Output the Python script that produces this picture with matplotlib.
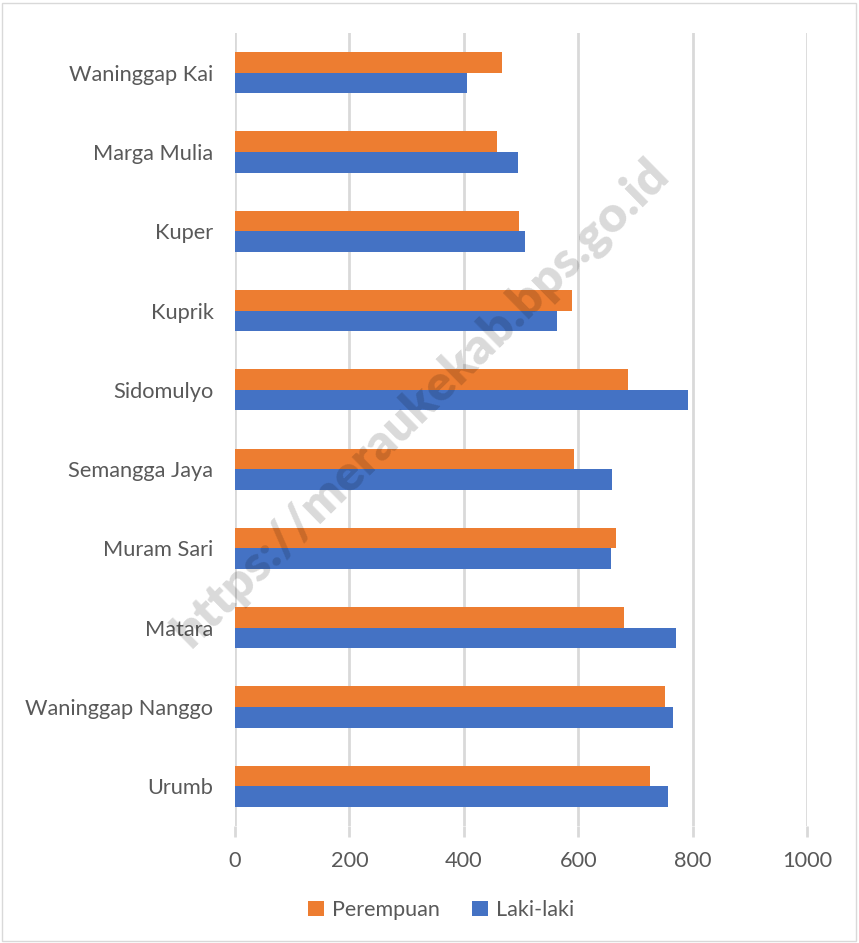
import matplotlib
matplotlib.use("Agg")
import matplotlib.pyplot as plt
import numpy as np
from matplotlib.patches import Rectangle

categories = ["Urumb", "Waninggap Nanggo", "Matara", "Muram Sari", "Semangga Jaya",
              "Sidomulyo", "Kuprik", "Kuper", "Marga Mulia", "Waninggap Kai"]
laki_laki = [757, 766, 771, 657, 659, 792, 563, 507, 494, 406]
perempuan = [725, 751, 680, 666, 592, 687, 589, 497, 458, 466]
xticks = [0, 200, 400, 600, 800, 1000]

plt.rcParams['font.family'] = ['Lato', 'DejaVu Sans']

fig = plt.figure(figsize=(8.59, 9.43), dpi=100)
W, H = 859, 943
ax = fig.add_axes([235 / W, 1 - 826 / H, (807 - 235) / W, (826 - 33) / H])

y = np.arange(len(categories))
h = 0.26
ax.barh(y - h / 2, laki_laki, height=h, color="#4472C4", label="Laki-laki", zorder=3)
ax.barh(y + h / 2, perempuan, height=h, color="#ED7D31", label="Perempuan", zorder=3)

ax.set_xlim(0, 1000)
ax.set_ylim(-0.5, len(categories) - 0.5)
ax.set_xticks(xticks)
ax.set_xticklabels([str(t) for t in xticks])
ax.set_yticks(y)
ax.set_yticklabels(categories)
ax.grid(axis="x", color="#D9D9D9", linewidth=2, zorder=0)
for s in ax.spines.values():
    s.set_visible(False)
ax.tick_params(axis="y", length=0, pad=15.5, labelsize=15.7, labelcolor="#595959")
ax.tick_params(axis="x", length=8, width=2, color="#D9D9D9", pad=10, labelsize=15.7,
               labelcolor="#595959")

handles, labels = ax.get_legend_handles_labels()
leg = fig.legend(handles[::-1], labels[::-1], loc="center", bbox_to_anchor=(441 / W, 1 - 910 / H),
                 ncol=2, frameon=False, fontsize=15.5, handlelength=0.75, handleheight=0.75,
                 columnspacing=1.5, handletextpad=0.35, labelcolor="#595959")

fig.text(421 / W, 1 - 403 / H, "https://meraukekab.bps.go.id", rotation=44.5, fontsize=36,
         fontweight="heavy", color="black", alpha=0.15, ha="center", va="center", zorder=10,
         rotation_mode="anchor")

fig.patches.append(Rectangle((2 / W, 2 / H), 854 / W, 938 / H, transform=fig.transFigure,
                             fill=False, edgecolor="#D9D9D9", linewidth=1))

fig.savefig("out.png", dpi=100)
